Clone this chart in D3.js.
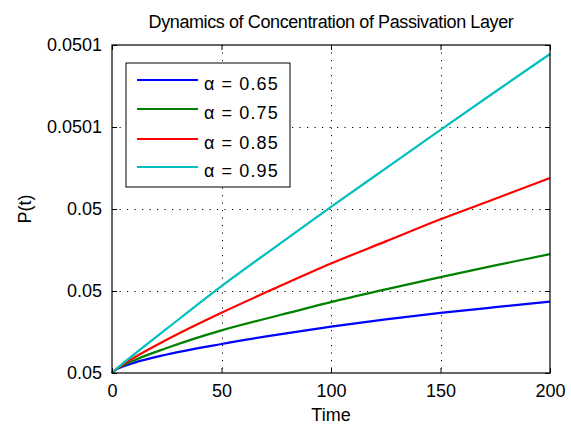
<!DOCTYPE html>
<html>
<head>
<meta charset="utf-8">
<script src="https://cdn.jsdelivr.net/npm/d3@7"></script>
<style>
  body { margin: 0; background: #fff; }
  svg text { font-family: "Liberation Sans", Arial, sans-serif; fill: #000; }
</style>
</head>
<body>
<div id="chart"></div>
<script>
// time points
const time = [0, 2, 5, 10, 25, 50, 75, 100, 125, 150, 175, 200];

// P(t) for each alpha
const p065 = [0.05, 0.05000087, 0.05000158, 0.05000248, 0.0500045, 0.05000707, 0.0500093, 0.0500113, 0.0500131, 0.05001465, 0.05001605, 0.05001739];
const p075 = [0.05, 0.05000092, 0.05000182, 0.05000307, 0.0500061, 0.0500104, 0.0500139, 0.0500173, 0.0500204, 0.0500234, 0.05002625, 0.050029];
const p085 = [0.05, 0.05000095, 0.05000207, 0.05000373, 0.05000813, 0.0500147, 0.0500208, 0.0500267, 0.0500321, 0.0500375, 0.0500425, 0.05004756];
const p095 = [0.05, 0.05000098, 0.05000233, 0.0500045, 0.0500108, 0.0500212, 0.0500309, 0.0500405, 0.0500499, 0.0500593, 0.0500686, 0.0500778];

const seriesNames = ["\u03b1 = 0.65", "\u03b1 = 0.75", "\u03b1 = 0.85", "\u03b1 = 0.95"];
const seriesColors = ["#0000ff", "#008000", "#ff0000", "#00bfbf"];

const xTicks = [0, 50, 100, 150, 200];
const yTicks = [0.05, 0.05002, 0.05004, 0.05006, 0.05008];
const yTickLabels = ["0.05", "0.05", "0.05", "0.0501", "0.0501"];

const W = 571, H = 425;
const mLeft = 112, mRight = 550, mTop = 45, mBottom = 373;

const svg = d3.select("#chart").append("svg")
  .attr("width", W)
  .attr("height", H);

const x = d3.scaleLinear().domain([0, 200]).range([mLeft, mRight]);
const y = d3.scaleLinear().domain([0.05, 0.05008]).range([mBottom, mTop]);

// grid (dotted)
const grid = svg.append("g");
xTicks.slice(1, -1).forEach(t => {
  grid.append("line")
    .attr("x1", Math.round(x(t)) + 0.5).attr("x2", Math.round(x(t)) + 0.5)
    .attr("y1", mTop).attr("y2", mBottom)
    .attr("stroke", "#000").attr("stroke-width", 1)
    .attr("stroke-dasharray", "1.2,6.3");
});
yTicks.slice(1, -1).forEach(v => {
  grid.append("line")
    .attr("x1", mLeft).attr("x2", mRight)
    .attr("y1", Math.round(y(v)) + 0.5).attr("y2", Math.round(y(v)) + 0.5)
    .attr("stroke", "#000").attr("stroke-width", 1)
    .attr("stroke-dasharray", "1.2,6.3");
});

// lines
const allSeries = [p065, p075, p085, p095];
const line = d3.line()
  .x((d, i) => x(time[i]))
  .y(d => y(d))
  .curve(d3.curveMonotoneX);

allSeries.forEach((s, k) => {
  svg.append("path")
    .datum(s)
    .attr("d", line)
    .attr("fill", "none")
    .attr("stroke", seriesColors[k])
    .attr("stroke-width", 2.2);
});

// axes with inward ticks
const fontSize = 18;
const xAxis = svg.append("g")
  .attr("transform", `translate(0,${mBottom})`)
  .call(d3.axisBottom(x).tickValues(xTicks).tickSizeInner(-5).tickSizeOuter(0).tickPadding(11));
const yAxis = svg.append("g")
  .attr("transform", `translate(${mLeft},0)`)
  .call(d3.axisLeft(y).tickValues(yTicks).tickFormat((d, i) => yTickLabels[i]).tickSizeInner(-5).tickSizeOuter(0).tickPadding(10));
const xAxisTop = svg.append("g")
  .attr("transform", `translate(0,${mTop})`)
  .call(d3.axisTop(x).tickValues(xTicks).tickSizeInner(-5).tickSizeOuter(0).tickFormat(""));
const yAxisRight = svg.append("g")
  .attr("transform", `translate(${mRight},0)`)
  .call(d3.axisRight(y).tickValues(yTicks).tickSizeInner(-5).tickSizeOuter(0).tickFormat(""));

[xAxis, yAxis, xAxisTop, yAxisRight].forEach(g => {
  g.select(".domain").remove();
  g.selectAll("line").attr("stroke", "#000");
  g.selectAll("text").attr("font-size", fontSize).attr("font-family", null);
});

// box
svg.append("rect")
  .attr("x", mLeft).attr("y", mTop)
  .attr("width", mRight - mLeft).attr("height", mBottom - mTop)
  .attr("fill", "none").attr("stroke", "#000").attr("stroke-width", 1.2);

// title and axis labels
svg.append("text")
  .attr("x", (mLeft + mRight) / 2).attr("y", 27.5)
  .attr("text-anchor", "middle")
  .attr("font-size", fontSize)
  .attr("letter-spacing", -0.4)
  .text("Dynamics of Concentration of Passivation Layer");

svg.append("text")
  .attr("x", (mLeft + mRight) / 2).attr("y", 421)
  .attr("text-anchor", "middle")
  .attr("font-size", fontSize)
  .text("Time");

svg.append("text")
  .attr("transform", `translate(31,${(mTop + mBottom) / 2}) rotate(-90)`)
  .attr("text-anchor", "middle")
  .attr("font-size", fontSize)
  .text("P(t)");

// legend
const legend = svg.append("g");
legend.append("rect")
  .attr("x", 126).attr("y", 63)
  .attr("width", 164).attr("height", 124)
  .attr("fill", "#fff").attr("stroke", "#000").attr("stroke-width", 1);
const rowY = [80, 109, 139, 167];
seriesNames.forEach((name, k) => {
  legend.append("line")
    .attr("x1", 137).attr("x2", 198)
    .attr("y1", rowY[k]).attr("y2", rowY[k])
    .attr("stroke", seriesColors[k]).attr("stroke-width", 2.2);
  legend.append("text")
    .attr("x", 204).attr("y", rowY[k] + 9.5)
    .attr("font-size", fontSize)
    .attr("letter-spacing", 1.1)
    .text(name);
});
</script>
</body>
</html>
